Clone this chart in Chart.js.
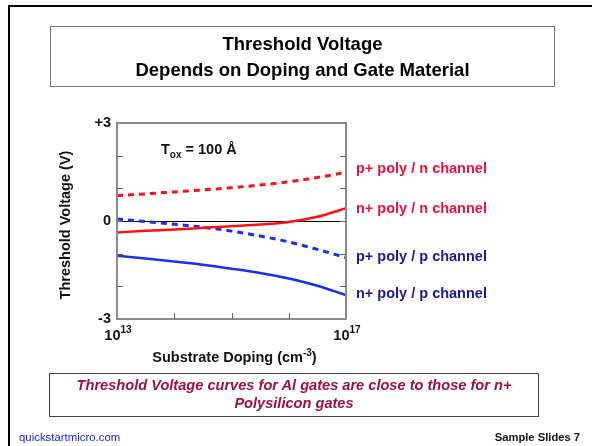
<!DOCTYPE html>
<html lang="en">
<head>
<meta charset="UTF-8">
<title>Threshold Voltage</title>
<script src="https://cdn.jsdelivr.net/npm/chart.js"></script>
<style>
  html, body { margin: 0; padding: 0; background: #fff; }
  body { width: 592px; height: 446px; position: relative; overflow: hidden; font-family: "Liberation Sans", Arial, sans-serif; }
  #frameTop { position: absolute; left: 8px; top: 5px; width: 584px; height: 2px; background: #000; }
  #frameLeft { position: absolute; left: 8px; top: 5px; width: 2px; height: 441px; background: #000; }
  #titleBox { position: absolute; left: 50px; top: 26px; width: 503px; border: 1px solid #777;
    text-align: center; font-weight: bold; font-size: 18.5px; line-height: 26px; padding-top: 4px; height: 55px; }
  #caption { position: absolute; left: 49px; top: 373px; width: 488px; height: 40px; border: 1px solid #444;
    text-align: center; font-weight: bold; font-style: italic; font-size: 14.6px; line-height: 18px; color: #a0103c; padding-top: 2px; }
  #site { position: absolute; left: 19px; top: 431px; font-size: 11.4px; color: #1a1aee; }
  #slide { position: absolute; right: 12px; top: 431px; font-size: 11.2px; font-weight: bold; color: #111; }
  #wrap { position: absolute; left: 0; top: 0; width: 592px; height: 446px; }
</style>
</head>
<body>
<div id="wrap"><canvas id="chart" width="592" height="446"></canvas></div>
<div id="frameTop"></div>
<div id="frameLeft"></div>
<div id="titleBox">Threshold Voltage<br>Depends on Doping and Gate Material</div>
<div id="caption">Threshold Voltage curves for Al gates are close to those for n+<br>Polysilicon gates</div>
<div id="site">quickstartmicro.com</div>
<div id="slide">Sample Slides 7</div>

<script>
// doping exponent (log10 of cm^-3)
const doping = [13, 13.5, 14, 14.5, 15, 15.5, 16, 16.5, 17];
const pPolyN = [0.78, 0.83, 0.89, 0.95, 1.02, 1.10, 1.20, 1.33, 1.49];
const nPolyN = [-0.35, -0.30, -0.26, -0.21, -0.16, -0.11, -0.03, 0.13, 0.39];
const pPolyP = [0.06, -0.02, -0.10, -0.19, -0.31, -0.46, -0.64, -0.87, -1.12];
const nPolyP = [-1.06, -1.15, -1.24, -1.34, -1.46, -1.59, -1.76, -1.98, -2.27];
const seriesNames = ['p+ poly / n channel', 'n+ poly / n channel', 'p+ poly / p channel', 'n+ poly / p channel'];
const yTicks = [3, 0, -3];
const yTickText = ['+3', '0', '-3'];
const xTicks = [13, 17];

const red = '#ff1010';
const blue = '#1530f0';
const redText = '#f01040';
const blueText = '#1a1a9a';

const F = 'bold 14.5px "Liberation Sans", Arial, sans-serif';
const FS = 'bold 10px "Liberation Sans", Arial, sans-serif';

function pts(ys) {
  return doping.map((x, i) => ({ x: x, y: ys[i] }));
}

// frame, inner ticks, zero line and labels
const decor = {
  id: 'decor',
  beforeDatasetsDraw(chart) {
    const { ctx, chartArea: a, scales: { y } } = chart;
    ctx.save();
    ctx.strokeStyle = '#000';
    ctx.lineWidth = 1;
    const y0 = Math.round(y.getPixelForValue(0)) + 0.5;
    ctx.beginPath();
    ctx.moveTo(a.left, y0);
    ctx.lineTo(a.right, y0);
    ctx.stroke();
    ctx.restore();
  },
  afterDraw(chart) {
    const { ctx, chartArea: a, scales: { x, y } } = chart;
    ctx.save();
    // frame
    ctx.strokeStyle = '#8a8a8a';
    ctx.lineWidth = 2;
    ctx.strokeRect(a.left, a.top, a.right - a.left, a.bottom - a.top);
    // inner ticks
    ctx.lineWidth = 1;
    ctx.strokeStyle = '#666';
    ctx.beginPath();
    for (let v = -2; v <= 2; v++) {
      const py = Math.round(y.getPixelForValue(v)) + 0.5;
      ctx.moveTo(a.left, py); ctx.lineTo(a.left + 6, py);
      ctx.moveTo(a.right, py); ctx.lineTo(a.right - 6, py);
    }
    for (let v = 14; v <= 16; v++) {
      const px = Math.round(x.getPixelForValue(v)) + 0.5;
      ctx.moveTo(px, a.bottom); ctx.lineTo(px, a.bottom - 6);
    }
    ctx.stroke();

    ctx.fillStyle = '#111';
    ctx.font = F;
    ctx.textBaseline = 'middle';
    // y tick labels
    ctx.textAlign = 'right';
    yTicks.forEach((v, i) => {
      ctx.fillText(yTickText[i], a.left - 6, y.getPixelForValue(v));
    });
    // x tick labels with superscripts
    xTicks.forEach(v => {
      const px = x.getPixelForValue(v);
      ctx.font = F;
      const w1 = ctx.measureText('10').width;
      ctx.font = FS;
      const w2 = ctx.measureText(String(v)).width;
      const start = px - (w1 + w2) / 2 + 1;
      ctx.textAlign = 'left';
      ctx.font = F;
      ctx.fillText('10', start, a.bottom + 17);
      ctx.font = FS;
      ctx.fillText(String(v), start + w1, a.bottom + 11);
    });
    // x axis title
    ctx.font = F;
    const t1 = 'Substrate Doping (cm';
    const wT1 = ctx.measureText(t1).width;
    ctx.font = FS;
    const wSup = ctx.measureText('-3').width;
    ctx.font = F;
    const wPar = ctx.measureText(')').width;
    const cx = (a.left + a.right) / 2 + 3;
    const sx = cx - (wT1 + wSup + wPar) / 2;
    ctx.textAlign = 'left';
    ctx.fillText(t1, sx, a.bottom + 39);
    ctx.font = FS;
    ctx.fillText('-3', sx + wT1, a.bottom + 34);
    ctx.font = F;
    ctx.fillText(')', sx + wT1 + wSup, a.bottom + 39);
    // y axis title
    ctx.save();
    ctx.translate(66, (a.top + a.bottom) / 2 + 4);
    ctx.rotate(-Math.PI / 2);
    ctx.textAlign = 'center';
    ctx.fillText('Threshold Voltage (V)', 0, 0);
    ctx.restore();
    // Tox annotation
    ctx.textAlign = 'left';
    ctx.fillText('T', 161, 150);
    const wT = ctx.measureText('T').width;
    ctx.font = FS;
    ctx.fillText('ox', 161 + wT, 155);
    const wOx = ctx.measureText('ox').width;
    ctx.font = F;
    ctx.fillText(' = 100 Å', 161 + wT + wOx, 150);
    // series labels at the right end
    const labelY = [169, 209, 257, 294];
    const labelC = [redText, redText, blueText, blueText];
    seriesNames.forEach((s, i) => {
      ctx.fillStyle = labelC[i];
      ctx.fillText(s, a.right + 10, labelY[i]);
    });
    ctx.restore();
  }
};

new Chart(document.getElementById('chart'), {
  type: 'line',
  data: {
    datasets: [
      { label: seriesNames[0], data: pts(pPolyN), borderColor: red, borderWidth: 3, borderDash: [6, 5] },
      { label: seriesNames[1], data: pts(nPolyN), borderColor: red, borderWidth: 2.5 },
      { label: seriesNames[2], data: pts(pPolyP), borderColor: blue, borderWidth: 3, borderDash: [6, 5] },
      { label: seriesNames[3], data: pts(nPolyP), borderColor: blue, borderWidth: 2.5 }
    ]
  },
  options: {
    responsive: false,
    animation: false,
    layout: { padding: { left: 117, right: 246, top: 123, bottom: 127 } },
    elements: { point: { radius: 0 }, line: { cubicInterpolationMode: 'monotone', fill: false } },
    scales: {
      x: { type: 'linear', min: 13, max: 17, display: false },
      y: { type: 'linear', min: -3, max: 3, display: false }
    },
    plugins: { legend: { display: false }, tooltip: { enabled: false } }
  },
  plugins: [decor]
});
</script>
</body>
</html>
